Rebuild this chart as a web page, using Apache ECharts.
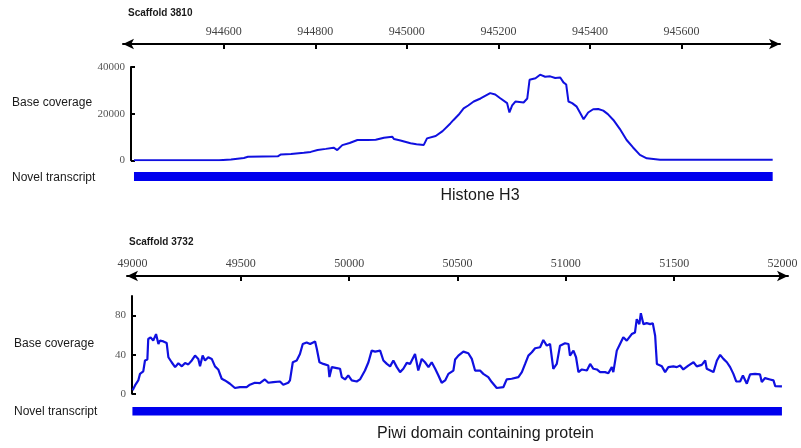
<!DOCTYPE html>
<html>
<head>
<meta charset="utf-8">
<script src="https://cdn.jsdelivr.net/npm/echarts@6/dist/echarts.min.js"></script>
<style>html,body{margin:0;padding:0;background:#fff;}#c{width:801px;height:448px;}</style>
</head>
<body>
<div id="c"></div>
<script>
// ---- Panel 1: Scaffold 3810 (Histone H3) ----
var topTicks = [944600, 944800, 945000, 945200, 945400, 945600];
var topYTicks = [0, 20000, 40000];
var topPos = [944404, 944590, 944616, 944644, 944653, 944686, 944718, 944725, 944747, 944775, 944790, 944805, 944823, 944840, 944848, 944859, 944875, 944892, 944914, 944917, 944932, 944950, 944968, 944972, 944986, 945008, 945021, 945037, 945044, 945063, 945078, 945095, 945102, 945113, 945124, 945134, 945146, 945161, 945182, 945193, 945204, 945219, 945224, 945230, 945237, 945255, 945263, 945268, 945281, 945291, 945302, 945313, 945324, 945335, 945342, 945348, 945353, 945361, 945371, 945378, 945386, 945396, 945407, 945418, 945429, 945439, 945451, 945465, 945480, 945494, 945509, 945524, 945553, 945640, 945799];
var topCov = [0, 0, 300, 1000, 1500, 1600, 1700, 2500, 2700, 3200, 3600, 4400, 4900, 5400, 4400, 6500, 7400, 8700, 8700, 8000, 8800, 9700, 10100, 9100, 8500, 7300, 6900, 6600, 9400, 10400, 12500, 15800, 17300, 19500, 22300, 23500, 25200, 26500, 28800, 28200, 26600, 24500, 20500, 23500, 25200, 24800, 26500, 34500, 35200, 36700, 35800, 36000, 35300, 35500, 33400, 32500, 25200, 24500, 23000, 20500, 17600, 20500, 21900, 22000, 21300, 19800, 17300, 13500, 8700, 5500, 2300, 860, 250, 200, 200];
var topTranscript = [944404, 945799];

// ---- Panel 2: Scaffold 3732 (Piwi domain containing protein) ----
var botTicks = [49500, 50000, 50500, 51000, 51500];
var botLabels = [49000, 49500, 50000, 50500, 51000, 51500, 52000];
var botYTicks = [0, 40, 80];
var botPos = [49001, 49012, 49027, 49035, 49050, 49058, 49069, 49073, 49084, 49096, 49109, 49120, 49127, 49143, 49158, 49166, 49181, 49197, 49212, 49228, 49243, 49258, 49274, 49289, 49304, 49312, 49324, 49335, 49350, 49366, 49381, 49396, 49412, 49427, 49450, 49473, 49496, 49527, 49542, 49565, 49588, 49611, 49627, 49650, 49681, 49696, 49719, 49727, 49740, 49758, 49773, 49786, 49804, 49820, 49843, 49851, 49863, 49881, 49904, 49909, 49920, 49943, 49958, 49966, 49981, 49996, 50012, 50035, 50050, 50073, 50089, 50104, 50120, 50143, 50158, 50174, 50189, 50204, 50220, 50235, 50250, 50266, 50281, 50304, 50319, 50335, 50350, 50366, 50381, 50397, 50412, 50427, 50443, 50458, 50481, 50489, 50504, 50527, 50550, 50566, 50581, 50604, 50619, 50642, 50658, 50681, 50712, 50727, 50750, 50781, 50797, 50812, 50827, 50843, 50858, 50881, 50896, 50912, 50927, 50942, 50958, 50973, 50996, 51012, 51019, 51035, 51047, 51058, 51074, 51097, 51112, 51127, 51143, 51158, 51181, 51196, 51212, 51219, 51235, 51250, 51265, 51281, 51304, 51319, 51327, 51339, 51346, 51358, 51373, 51389, 51401, 51412, 51420, 51443, 51458, 51473, 51496, 51512, 51527, 51542, 51565, 51589, 51604, 51627, 51643, 51650, 51681, 51697, 51712, 51727, 51743, 51758, 51773, 51786, 51804, 51817, 51835, 51850, 51873, 51896, 51904, 51919, 51942, 51958, 51966, 51997];
var botCov = [3.5, 8.5, 13.6, 20.3, 22.8, 34, 35, 56, 57.7, 54.3, 61, 50.9, 54.3, 53.5, 52, 37.3, 32.2, 27.2, 31.2, 28, 31.5, 30, 34, 39, 35.6, 28, 39, 34, 37.3, 35.6, 28, 24.8, 15.3, 13.6, 10.2, 5.8, 6.8, 6.8, 9.2, 11.2, 10.8, 14.6, 11.2, 11.9, 12.5, 9.2, 11.2, 13.6, 32.2, 34, 40.7, 50.9, 52.5, 50.9, 53.5, 45.8, 32.2, 30.5, 28.8, 17, 27.2, 26.2, 25.5, 17, 14.6, 18.7, 13.6, 12.5, 14.6, 23.7, 32.2, 44.1, 43.1, 44.1, 34, 30.5, 28, 34, 27.2, 22.1, 25.5, 31.5, 30.5, 40.7, 23.7, 35.6, 32.2, 27.2, 32.2, 25.5, 18.7, 11.2, 13.6, 20.3, 23.7, 35, 39, 43.1, 41.4, 35.6, 23.7, 23.7, 20.3, 17, 11.9, 5.8, 6.8, 14.6, 15.3, 17, 22.1, 30.5, 39, 42.4, 46.5, 47.5, 55, 49.2, 50.9, 25.5, 30.5, 49.2, 51.6, 50.9, 39, 44.1, 37.3, 22.1, 24.8, 23.7, 30.5, 25.5, 24.8, 22.1, 22.1, 21, 27.2, 22.1, 44.1, 50.9, 57.7, 54.3, 61, 62.7, 76.3, 71.2, 82.4, 71.2, 72.2, 71.2, 72.2, 59.3, 30.5, 28, 22.1, 27.2, 28, 27.2, 28.8, 24.8, 28.8, 32.2, 28, 29.5, 34, 25.5, 22.1, 34, 39.7, 35.6, 32.2, 27.2, 20.3, 12.5, 12.5, 18.7, 10.2, 19.7, 20.3, 19.7, 11.9, 16, 14.6, 13.6, 7.8, 7.5];
var botTranscript = [49000, 51997];

function zip(a, b) { return a.map(function (v, i) { return [v, b[i]]; }); }
function plain(v) { return String(v); }

var LINE = '#1010e0', BAR = '#0000ee';
var serif = 'Liberation Serif';
var sans = 'Liberation Sans';

function rulerAxis(grid, min, max, ticks, labels, offset) {
  return {
    type: 'value', gridIndex: grid, min: min, max: max, position: 'top', offset: offset,
    axisLine: { show: true, onZero: false, lineStyle: { color: '#000', width: 2 }, symbol: ['arrow', 'arrow'], symbolSize: [8, 11] },
    axisTick: { show: true, inside: true, length: 5, lineStyle: { color: '#000', width: 2 }, customValues: ticks },
    axisLabel: { show: true, margin: 6, fontFamily: serif, fontSize: 12, color: '#444', customValues: labels, formatter: plain },
    splitLine: { show: false }
  };
}
function hiddenX(grid, min, max) {
  return { type: 'value', gridIndex: grid, min: min, max: max, show: false };
}
function covAxis(grid, max, ticks, offset) {
  return {
    type: 'value', gridIndex: grid, min: 0, max: max, offset: offset,
    axisLine: { show: true, onZero: false, lineStyle: { color: '#000', width: 2 } },
    axisTick: { show: true, inside: true, length: 4, lineStyle: { color: '#000', width: 2 }, customValues: ticks },
    axisLabel: { show: true, margin: 6, fontFamily: serif, fontSize: 11, color: '#555', customValues: ticks, formatter: plain },
    splitLine: { show: false }
  };
}
function hiddenY(grid) { return { type: 'value', gridIndex: grid, min: 0, max: 1, show: false }; }

function txt(x, y, s, font, align) {
  return { type: 'text', x: x, y: y, style: { text: s, font: font, fill: '#1a1a1a', align: align || 'left', verticalAlign: 'middle' } };
}

var option = {
  animation: false,
  backgroundColor: '#fff',
  grid: [
    { left: 123, right: 21, top: 67, height: 93.3 },
    { left: 123, right: 21, top: 172, height: 9 },
    { left: 127, right: 13, top: 296, height: 97.7 },
    { left: 127, right: 13, top: 407, height: 8.5 }
  ],
  xAxis: [
    rulerAxis(0, 944380, 945815, topTicks, topTicks, 23),
    hiddenX(1, 944380, 945815),
    rulerAxis(2, 48975, 52025, botTicks, botLabels, 20),
    hiddenX(3, 48975, 52025)
  ],
  yAxis: [
    covAxis(0, 40000, topYTicks, -8),
    hiddenY(1),
    covAxis(2, 100, botYTicks, -5),
    hiddenY(3)
  ],
  series: [
    { type: 'line', xAxisIndex: 0, yAxisIndex: 0, data: zip(topPos, topCov), symbol: 'none', lineStyle: { color: LINE, width: 2 } },
    { type: 'line', xAxisIndex: 1, yAxisIndex: 1, data: [[topTranscript[0], 0.5], [topTranscript[1], 0.5]], symbol: 'none', lineStyle: { color: BAR, width: 9, cap: 'butt' } },
    { type: 'line', xAxisIndex: 2, yAxisIndex: 2, data: zip(botPos, botCov), symbol: 'none', lineStyle: { color: LINE, width: 2.2 } },
    { type: 'line', xAxisIndex: 3, yAxisIndex: 3, data: [[botTranscript[0], 0.5], [botTranscript[1], 0.5]], symbol: 'none', lineStyle: { color: BAR, width: 8.5, cap: 'butt' } }
  ],
  graphic: [
    txt(128, 13.5, 'Scaffold 3810', 'bold 10px ' + sans),
    txt(12, 102.5, 'Base coverage', '12px ' + sans),
    txt(12, 177.5, 'Novel transcript', '12px ' + sans),
    txt(480, 196, 'Histone H3', '16px ' + sans, 'center'),
    txt(129, 242.5, 'Scaffold 3732', 'bold 10px ' + sans),
    txt(14, 344, 'Base coverage', '12px ' + sans),
    txt(14, 412, 'Novel transcript', '12px ' + sans),
    txt(485.5, 434, 'Piwi domain containing protein', '16px ' + sans, 'center')
  ]
};
var chart = echarts.init(document.getElementById('c'), null, { renderer: 'canvas' });
chart.setOption(option);
</script>
</body>
</html>
